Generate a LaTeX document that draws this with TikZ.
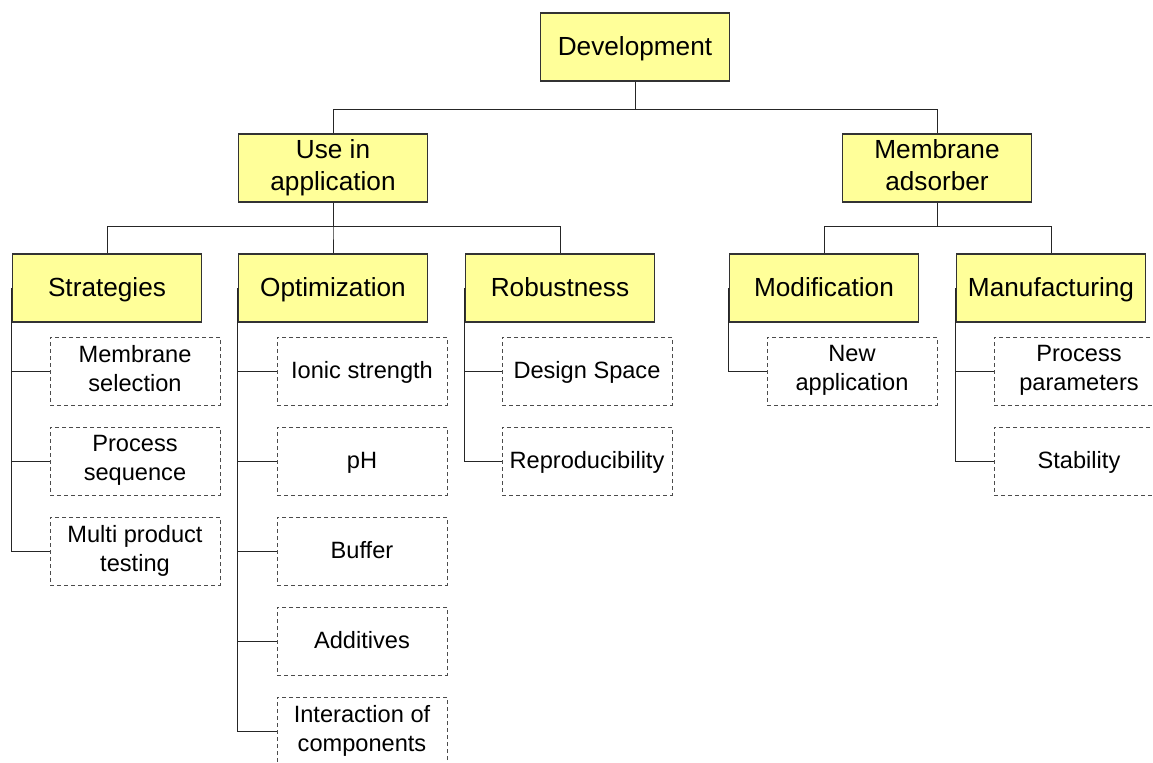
\documentclass[tikz,border=0pt]{standalone}
\usepackage{fontspec}
\setmainfont{Liberation Sans}
\usepackage{xcolor}
\definecolor{boxyellow}{HTML}{FFFF99}
\newcommand{\headstrut}{\rule[-3pt]{0pt}{14.5pt}}
\newcommand{\leafstrut}{\rule[-3pt]{0pt}{13.5pt}}

\begin{document}
\begin{tikzpicture}[x=0.5pt,y=-0.5pt,
  head/.style={draw=black!80,fill=boxyellow,line width=0.6pt,minimum width=94.5pt,minimum height=34pt,inner sep=0pt,align=center,font=\fontsize{13.1}{15.7}\selectfont,
    execute at begin node=\headstrut,execute at end node=\headstrut},
  leaf/.style={draw=black!70,dash pattern=on 2pt off 1.5pt,line width=0.5pt,minimum width=85pt,minimum height=34pt,inner sep=0pt,align=center,font=\fontsize{11.8}{14.5}\selectfont,
    execute at begin node=\leafstrut,execute at end node=\leafstrut},
  link/.style={draw=black!85,line width=0.5pt}]
\useasboundingbox (0,0) rectangle (1153,762);
\node[head] (dev) at (635,47) {Development};
\node[head] (use) at (333,168) {Use in\\application};
\node[head] (mem) at (937,168) {Membrane\\adsorber};
\node[head] (str) at (107,288) {Strategies};
\node[head] (opt) at (333,288) {Optimization};
\node[head] (rob) at (560,288) {Robustness};
\node[head] (mod) at (824,288) {Modification};
\node[head] (man) at (1051,288) {Manufacturing};
\draw[link] (dev.south) -- ++(0,28) -| (use.north);
\draw[link] (dev.south) -- ++(0,28) -| (mem.north);
\foreach \c in {str,opt,rob}
  \draw[link] (use.south) -- ++(0,24) -| (\c.north);
\foreach \c in {mod,man}
  \draw[link] (mem.south) -- ++(0,24) -| (\c.north);
\foreach \t [count=\i] in {Membrane\\selection,Process\\sequence,Multi product\\testing}{
  \node[leaf] (str\i) at (135,281+90*\i) {\t};
  \draw[link] (str.west) |- (str\i.west);
}
\foreach \t [count=\i] in {Ionic strength,pH,Buffer,Additives,Interaction of\\components}{
  \node[leaf] (opt\i) at (362,281+90*\i) {\t};
  \draw[link] (opt.west) |- (opt\i.west);
}
\foreach \t [count=\i] in {Design Space,Reproducibility}{
  \node[leaf] (rob\i) at (587,281+90*\i) {\t};
  \draw[link] (rob.west) |- (rob\i.west);
}
\node[leaf] (mod1) at (852,371) {New\\application};
\draw[link] (mod.west) |- (mod1.west);
\foreach \t [count=\i] in {Process\\parameters,Stability}{
  \node[leaf] (man\i) at (1079,281+90*\i) {\t};
  \draw[link] (man.west) |- (man\i.west);
}
\end{tikzpicture}
\end{document}
